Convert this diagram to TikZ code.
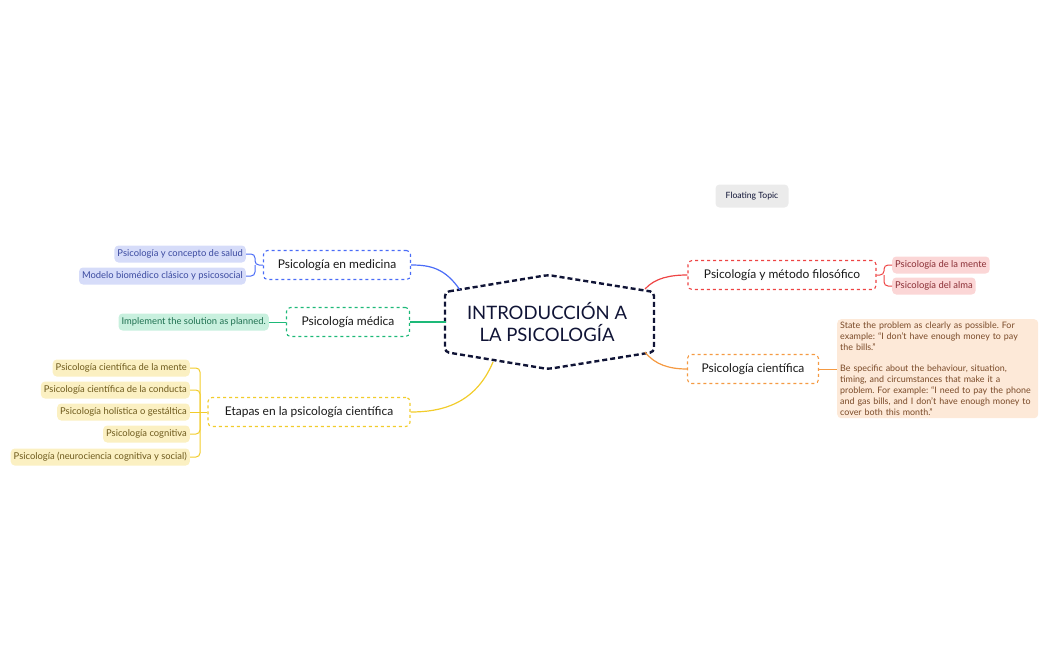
\documentclass[tikz,border=0pt]{standalone}
\usepackage{fontspec}
\setmainfont{Lato}
\frenchspacing
\hyphenpenalty=10000
\exhyphenpenalty=10000
\begin{document}
\begin{tikzpicture}[x=1pt,y=-1pt,
  main/.style={draw,dashed,line width=1.1pt,rounded corners=4pt,fill=white,font=\fontsize{12}{14}\selectfont,minimum height=29pt,inner xsep=6pt,text=black!90},
  sub/.style={rounded corners=4pt,font=\fontsize{9.4}{10}\selectfont,minimum height=17pt,inner xsep=3pt,anchor=east},
  conn/.style={line width=1.2pt},
  br/.style={line width=1pt,rounded corners=4pt}]
\definecolor{cb}{HTML}{4A6CF7}\definecolor{cbf}{HTML}{D6DCF9}\definecolor{cbt}{HTML}{3B4AA0}
\definecolor{cg}{HTML}{1DB978}\definecolor{cgf}{HTML}{C8F0DE}\definecolor{cgt}{HTML}{1E7050}
\definecolor{cy}{HTML}{F2CC2B}\definecolor{cyf}{HTML}{FBF0C2}\definecolor{cyt}{HTML}{6E5A1C}
\definecolor{cr}{HTML}{EE4444}\definecolor{crf}{HTML}{FBD6D6}\definecolor{crt}{HTML}{8A2E35}
\definecolor{co}{HTML}{F59A42}\definecolor{cof}{HTML}{FDE9D8}\definecolor{cot}{HTML}{7A4A28}
\definecolor{cn}{HTML}{101436}
\useasboundingbox (0,0) rectangle (1049,650);
% central
\coordinate (c1) at (445,292);\coordinate (c2) at (548,275);\coordinate (c3) at (654,292);
\coordinate (c4) at (654,352);\coordinate (c5) at (548,369);\coordinate (c6) at (445,352);
\draw[cn,line width=2.4pt,dash pattern=on 5pt off 3pt,fill=white,rounded corners=4pt] (c1)--(c2)--(c3)--(c4)--(c5)--(c6)--cycle;
\node[align=center,text=cn,font=\fontsize{18.5}{22}\selectfont] (C) at (547,322) {INTRODUCCIÓN A\\LA PSICOLOGÍA};
% main topics
\node[main,draw=cb,minimum width=147pt] (M) at (337,265) {Psicología en medicina};
\node[main,draw=cg,minimum width=123pt] (D) at (348,322) {Psicología médica};
\node[main,draw=cy,minimum width=202pt] (E) at (309,412) {Etapas en la psicología científica};
\node[main,draw=cr,minimum width=188pt] (F) at (782,275) {Psicología y método filosófico};
\node[main,draw=co,minimum width=131pt] (S) at (753,369) {Psicología científica};
% central connectors
\coordinate (ob) at (460,290);\coordinate (oy) at (493,362);\coordinate (or) at (645,289);\coordinate (oo) at (645,352);\coordinate (og) at (446,322);
\draw[conn,cb] (ob) .. controls (445,268) and (430,265) .. (M.east);
\draw[conn,cg] (og) -- (D.east);
\draw[conn,cy] (oy) .. controls (475,405) and (440,412) .. (E.east);
\draw[conn,cr] (or) .. controls (655,278) and (670,275) .. (F.west);
\draw[conn,co] (oo) .. controls (655,365) and (670,369) .. (S.west);
% blue children
\node[sub,fill=cbf,text=cbt] (b1) at (246,254) {Psicología y concepto de salud};
\node[sub,fill=cbf,text=cbt] (b2) at (246,276) {Modelo biomédico clásico y psicosocial};
\draw[br,cb] (M.west) -- (255,265) |- (b1.east);
\draw[br,cb] (255,265) |- (b2.east);
% green child
\node[sub,fill=cgf,text=cgt] (g1) at (269,322) {Implement the solution as planned.};
\draw[br,cg] (D.west) -- (g1.east);
% yellow children
\node[sub,fill=cyf,text=cyt] (y1) at (190,368) {Psicología científica de la mente};
\node[sub,fill=cyf,text=cyt] (y2) at (190,390) {Psicología científica de la conducta};
\node[sub,fill=cyf,text=cyt] (y3) at (190,412) {Psicología holística o gestáltica};
\node[sub,fill=cyf,text=cyt] (y4) at (190,434) {Psicología cognitiva};
\node[sub,fill=cyf,text=cyt] (y5) at (190,457) {Psicología (neurociencia cognitiva y social)};
\draw[br,cy] (E.west) -- (y3.east);
\draw[br,cy] (200,412) |- (y1.east);
\draw[br,cy] (200,412) |- (y2.east);
\draw[br,cy] (200,412) |- (y4.east);
\draw[br,cy] (200,412) |- (y5.east);
% red children
\node[sub,anchor=west,fill=crf,text=crt] (r1) at (892,265) {Psicología de la mente};
\node[sub,anchor=west,fill=crf,text=crt] (r2) at (892,286) {Psicología del alma};
\draw[br,cr] (F.east) -- (884,275) |- (r1.west);
\draw[br,cr] (884,275) |- (r2.west);
% orange note
\node[anchor=north west,fill=cof,text=cot,rounded corners=4pt,text width=195pt,inner sep=3pt,align=left,font=\fontsize{8.9}{10.8}\selectfont] (N) at (837,319) {State the problem as clearly as possible. For example: ``I don't have enough money to pay the bills.''\\[10.8pt]Be specific about the behaviour, situation, timing, and circumstances that make it a problem. For example: ``I need to pay the phone and gas bills, and I don't have enough money to cover both this month.''};
\draw[br,co] (S.east) -- (N.west|-S.east);
% floating
\node[fill=black!8,rounded corners=4pt,font=\fontsize{8.6}{10}\selectfont,minimum height=23pt,minimum width=73pt,text=cn] (FT) at (752,196) {Floating Topic};
\end{tikzpicture}
\end{document}
